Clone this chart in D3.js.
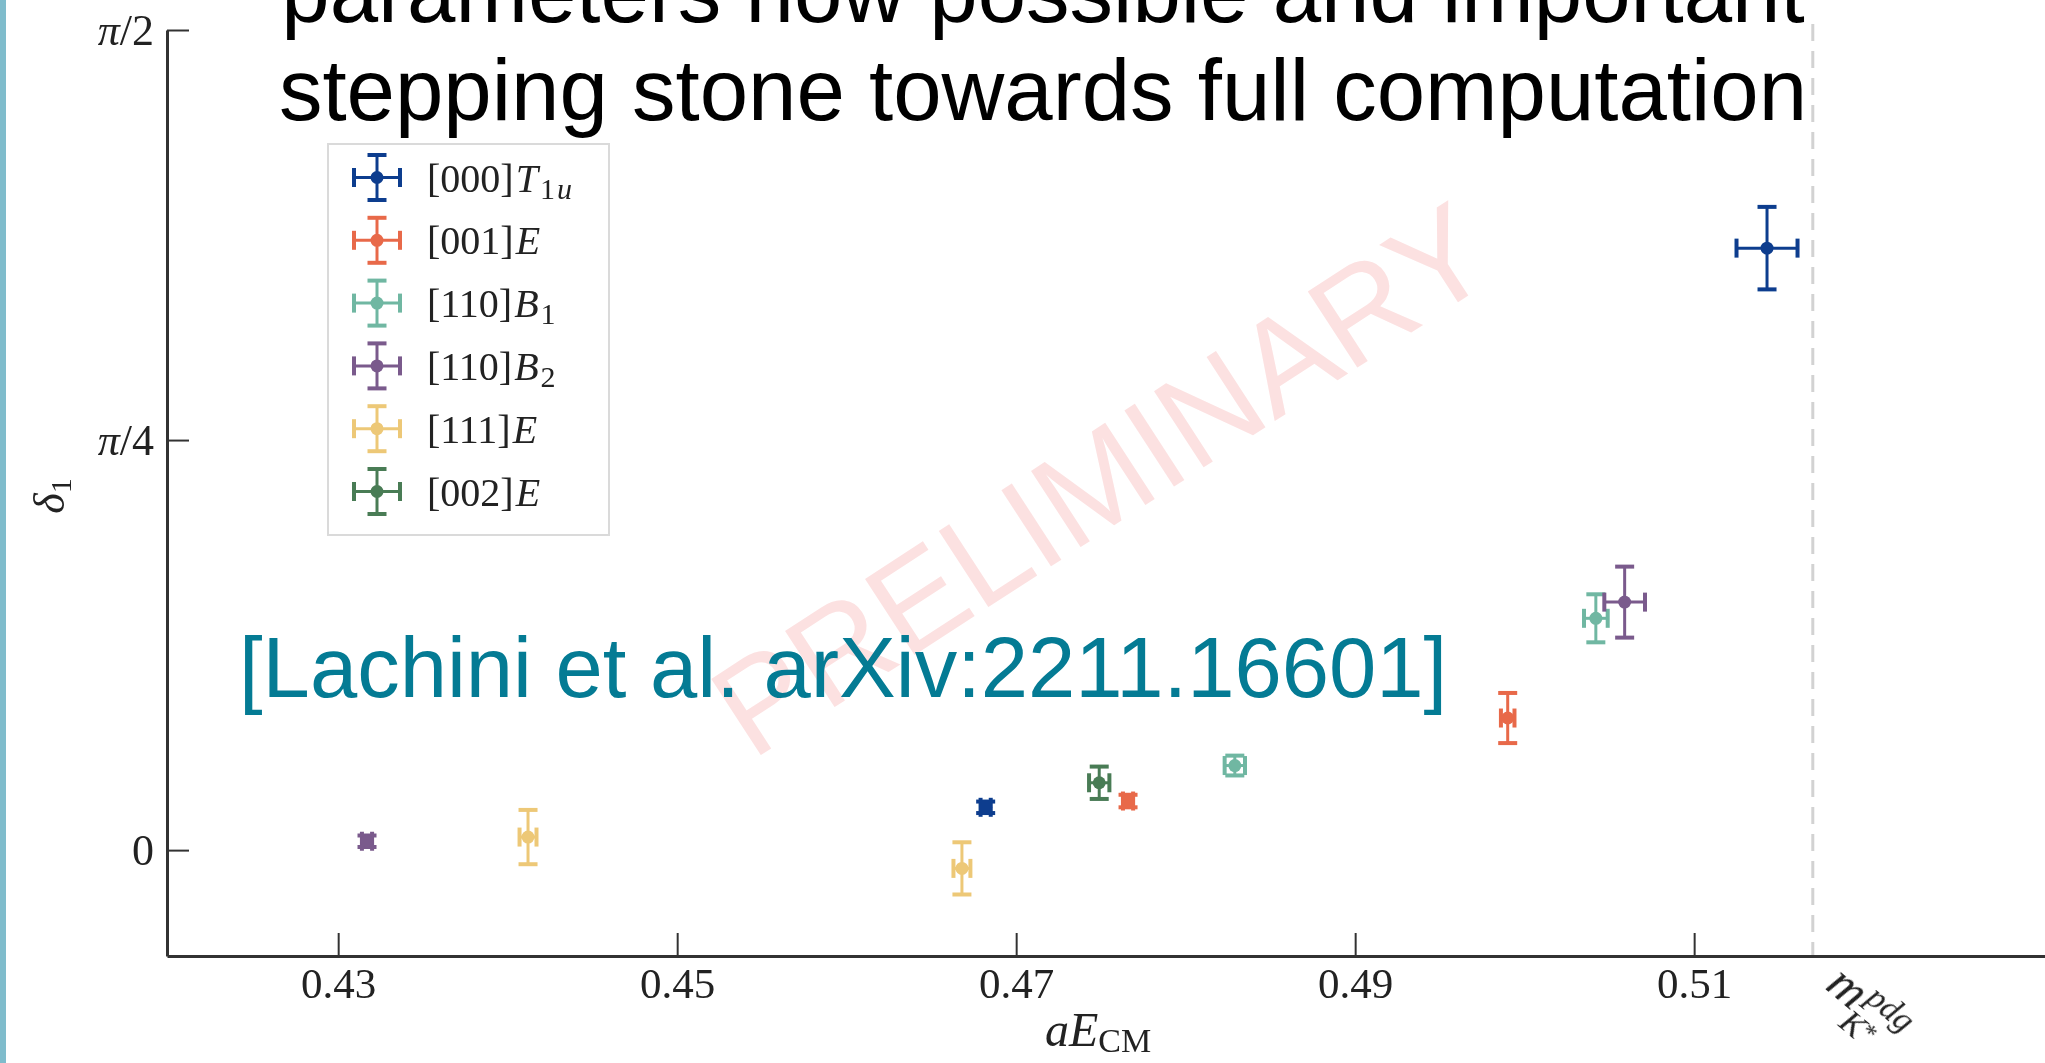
<!DOCTYPE html>
<html>
<head>
<meta charset="utf-8">
<script src="https://cdn.jsdelivr.net/npm/d3@7"></script>
<style>
  html, body { margin: 0; padding: 0; background: #fff; overflow: hidden; }
  svg { display: block; }
</style>
</head>
<body>
<svg id="slide" width="2045" height="1063"></svg>
<script>
// ---------------- data ----------------
// Each point: aE (energy in lattice units), aEerr, delta (phase shift, rad), deltaErr
const T1u_000 = [
  { aE: 0.4682, aEerr: 0.0003, delta: 0.082, deltaErr: 0.011 },
  { aE: 0.5143, aEerr: 0.0018, delta: 1.153, deltaErr: 0.079 }
];
const E_001 = [
  { aE: 0.4766, aEerr: 0.0003, delta: 0.094, deltaErr: 0.012 },
  { aE: 0.4990, aEerr: 0.0004, delta: 0.253, deltaErr: 0.048 }
];
const B1_110 = [
  { aE: 0.4829, aEerr: 0.0006, delta: 0.162, deltaErr: 0.019 },
  { aE: 0.5042, aEerr: 0.0007, delta: 0.444, deltaErr: 0.046 }
];
const B2_110 = [
  { aE: 0.4317, aEerr: 0.0003, delta: 0.017, deltaErr: 0.011 },
  { aE: 0.5059, aEerr: 0.0012, delta: 0.475, deltaErr: 0.068 }
];
const E_111 = [
  { aE: 0.4412, aEerr: 0.0005, delta: 0.025, deltaErr: 0.052 },
  { aE: 0.4668, aEerr: 0.0005, delta: -0.035, deltaErr: 0.050 }
];
const E_002 = [
  { aE: 0.4749, aEerr: 0.0006, delta: 0.129, deltaErr: 0.031 }
];

const seriesData = [T1u_000, E_001, B1_110, B2_110, E_111, E_002];
const momenta   = ["[000]", "[001]", "[110]", "[110]", "[111]", "[002]"];
const irreps    = ["T", "E", "B", "B", "E", "E"];
const irrepSubDigit  = ["1", "", "1", "2", "", ""];
const irrepSubItalic = ["u", "", "", "", "", ""];
const colors    = ["#0e3e8e", "#e8694a", "#6fb7a2", "#7a5a8c", "#edc877", "#4a7b55"];

const xTicks = [0.43, 0.45, 0.47, 0.49, 0.51];
const xTickLabels = ["0.43", "0.45", "0.47", "0.49", "0.51"];
const yTicks = [0, Math.PI / 4, Math.PI / 2];
const yTickLabels = [["", "0"], ["π", "/4"], ["π", "/2"]];
const mKstarPdg = 0.5170;

const titleLines = ["parameters now possible and important",
                    "stepping stone towards full computation"];
const citation = "[Lachini et al. arXiv:2211.16601]";

// ---------------- layout ----------------
const svg = d3.select("#slide");
const serif = "'Liberation Serif', 'DejaVu Serif', serif";
const sans = "'Liberation Sans', Arial, Helvetica, sans-serif";

const x = d3.scaleLinear().domain([0.4199, 0.5307]).range([167, 2045]);
const y = d3.scaleLinear().domain([-0.2028, Math.PI / 2]).range([956, 30]);

const defs = svg.append("defs");
defs.append("filter").attr("id", "soft")
  .append("feGaussianBlur").attr("stdDeviation", 0.6);

// slide edge accent
svg.append("rect").attr("x", 0).attr("y", 0).attr("width", 6).attr("height", 1063)
  .attr("fill", "#7fbccc");

const plot = svg.append("g").attr("filter", "url(#soft)");

// watermark
plot.append("text")
  .attr("transform", "translate(1100,478) rotate(-33)")
  .attr("text-anchor", "middle")
  .attr("dy", "0.36em")
  .attr("font-family", sans)
  .attr("font-size", 132)
  .attr("fill", "#fce1e1")
  .text("PRELIMINARY");

// reference mass line
plot.append("line")
  .attr("x1", x(mKstarPdg)).attr("x2", x(mKstarPdg))
  .attr("y1", 24).attr("y2", y.range()[0])
  .attr("stroke", "#d2d2d2").attr("stroke-width", 3)
  .attr("stroke-dasharray", "17,10");

// axes
const xAxis = d3.axisBottom(x).tickValues(xTicks)
  .tickFormat((d, i) => xTickLabels[i])
  .tickSizeInner(-23).tickSizeOuter(0).tickPadding(11);
const gx = plot.append("g").attr("transform", `translate(0,${y.range()[0]})`).call(xAxis);

const yAxis = d3.axisLeft(y).tickValues(yTicks)
  .tickFormat(() => "")
  .tickSizeInner(-22).tickSizeOuter(0).tickPadding(13);
const gy = plot.append("g").attr("transform", `translate(${x.range()[0]},0)`).call(yAxis);

[gx, gy].forEach(g => {
  g.select(".domain").attr("stroke", "#333").attr("stroke-width", 3);
  g.selectAll(".tick line").attr("stroke", "#333").attr("stroke-width", 2);
  g.selectAll(".tick text").attr("fill", "#222").attr("font-family", serif).attr("font-size", 43);
});
gy.selectAll(".tick text").attr("font-size", 44).each(function (d, i) {
  const t = d3.select(this);
  if (yTickLabels[i][0]) t.append("tspan").attr("font-style", "italic").text(yTickLabels[i][0]);
  t.append("tspan").text(yTickLabels[i][1]);
});

// axis labels
const xl = plot.append("text").attr("x", 1098).attr("y", 1046)
  .attr("text-anchor", "middle").attr("font-family", serif).attr("fill", "#222");
xl.append("tspan").attr("font-style", "italic").attr("font-size", 48).text("aE");
xl.append("tspan").attr("font-size", 34).attr("dy", 6).text("CM");

const yl = plot.append("text").attr("transform", "translate(64,496) rotate(-90)")
  .attr("text-anchor", "middle").attr("font-family", serif).attr("fill", "#222");
yl.append("tspan").attr("font-style", "italic").attr("font-size", 44).text("δ");
yl.append("tspan").attr("font-size", 30).attr("dy", 7).text("1");

const mk = plot.append("g").attr("transform", "translate(1824,988) rotate(40)")
  .attr("font-family", serif).attr("fill", "#222").attr("font-style", "italic");
mk.append("text").attr("x", 0).attr("y", 0).attr("font-size", 50).text("m");
mk.append("text").attr("x", 39).attr("y", -16).attr("font-size", 34).text("pdg");
const ks = mk.append("text").attr("x", 34).attr("y", 20).attr("font-size", 34);
ks.append("tspan").text("K");
ks.append("tspan").attr("font-style", "normal").attr("font-size", 26).attr("dy", -6).text("*");

// error-bar markers
const capHalf = 9.5;
function drawErrorBar(g, color, cx, cy, x0, x1, y0, y1) {
  g.append("line").attr("x1", x0).attr("x2", x1).attr("y1", cy).attr("y2", cy)
    .attr("stroke", color).attr("stroke-width", 3);
  g.append("line").attr("x1", cx).attr("x2", cx).attr("y1", y0).attr("y2", y1)
    .attr("stroke", color).attr("stroke-width", 3);
  [x0, x1].forEach(xx => g.append("line").attr("x1", xx).attr("x2", xx)
    .attr("y1", cy - capHalf).attr("y2", cy + capHalf)
    .attr("stroke", color).attr("stroke-width", 4));
  [y0, y1].forEach(yy => g.append("line").attr("y1", yy).attr("y2", yy)
    .attr("x1", cx - capHalf).attr("x2", cx + capHalf)
    .attr("stroke", color).attr("stroke-width", 4));
  g.append("circle").attr("cx", cx).attr("cy", cy).attr("r", 6.5).attr("fill", color);
}

seriesData.forEach((pts, i) => {
  const g = plot.append("g").attr("class", "series");
  pts.forEach(p => {
    drawErrorBar(g, colors[i], x(p.aE), y(p.delta),
      x(p.aE - p.aEerr), x(p.aE + p.aEerr),
      y(p.delta + p.deltaErr), y(p.delta - p.deltaErr));
  });
});

// legend
const lg = plot.append("g").attr("transform", "translate(328,144)");
lg.append("rect").attr("x", 0).attr("y", 0).attr("width", 281).attr("height", 391)
  .attr("fill", "#fff").attr("stroke", "#dadada").attr("stroke-width", 2);
seriesData.forEach((pts, i) => {
  const cy = 33.5 + i * 62.8;
  const g = lg.append("g");
  drawErrorBar(g, colors[i], 49, cy, 26, 72, cy - 22.5, cy + 22.5);
  const t = g.append("text").attr("x", 99).attr("y", cy + 14)
    .attr("font-family", serif).attr("font-size", 40).attr("fill", "#222");
  t.append("tspan").text(momenta[i]);
  t.append("tspan").attr("font-style", "italic").attr("dx", 2).text(irreps[i]);
  if (irrepSubDigit[i]) {
    t.append("tspan").attr("font-size", 30).attr("dx", 2).attr("dy", 7).text(irrepSubDigit[i]);
    if (irrepSubItalic[i]) t.append("tspan").attr("font-size", 30).attr("font-style", "italic").attr("dx", 2).text(irrepSubItalic[i]);
  }
});

// slide text
svg.selectAll("text.title").data(titleLines).join("text")
  .attr("class", "title")
  .attr("x", 1043).attr("y", (d, i) => 22 + i * 98)
  .attr("text-anchor", "middle")
  .attr("font-family", sans).attr("font-size", 87).attr("fill", "#000")
  .text(d => d);

svg.append("text").attr("x", 239).attr("y", 697)
  .attr("font-family", sans).attr("font-size", 85).attr("fill", "#047b94")
  .text(citation);
</script>
</body>
</html>
